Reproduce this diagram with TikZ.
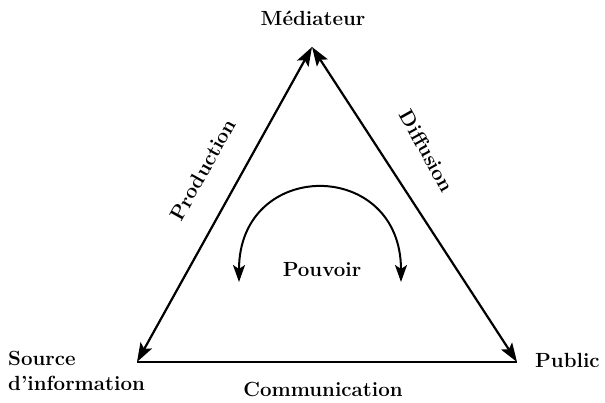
\documentclass[tikz,border=0pt]{standalone}
\usepackage{fontspec}
\usetikzlibrary{arrows.meta}
\begin{document}
\begin{tikzpicture}[x=1pt,y=1pt,
  edge/.style={line width=2.2pt},
  tipped/.style={edge,{Stealth[length=19pt,width=13pt,inset=4pt]}-{Stealth[length=19pt,width=13pt,inset=4pt]}},
  lbl/.style={font=\fontsize{20.5}{24}\selectfont\bfseries, inner sep=0pt}]
\useasboundingbox (0,0) rectangle (605,403);
\coordinate (A) at (312,356);
\coordinate (L) at (137,41);
\coordinate (R) at (517,41);
\draw[tipped] (L) -- (A);
\draw[tipped] (A) -- (R);
\draw[edge] (L) -- (R);
\node[lbl] (med) at (313,385) {Médiateur};
\node[lbl, anchor=west] (src1) at (8,45) {Source};
\node[lbl, anchor=west] (src2) at (8,20) {d'information};
\node[lbl, anchor=west] (pub) at (535,43) {Public};
\node[lbl] (com) at (323,14) {Communication};
\node[lbl, rotate=61] (prod) at (203,233) {Production};
\node[lbl, rotate=-61] (diff) at (427,252) {Diffusion};
\node[lbl] (pouv) at (322,133) {Pouvoir};
\coordinate (p1) at (239,121);
\coordinate (p2) at (401,121);
\draw[edge, line width=2pt, {Stealth[length=17pt,width=12pt,inset=4pt]}-{Stealth[length=17pt,width=12pt,inset=4pt]}]
  (p1) .. controls (239,245) and (401,245) .. (p2);
\end{tikzpicture}
\end{document}
